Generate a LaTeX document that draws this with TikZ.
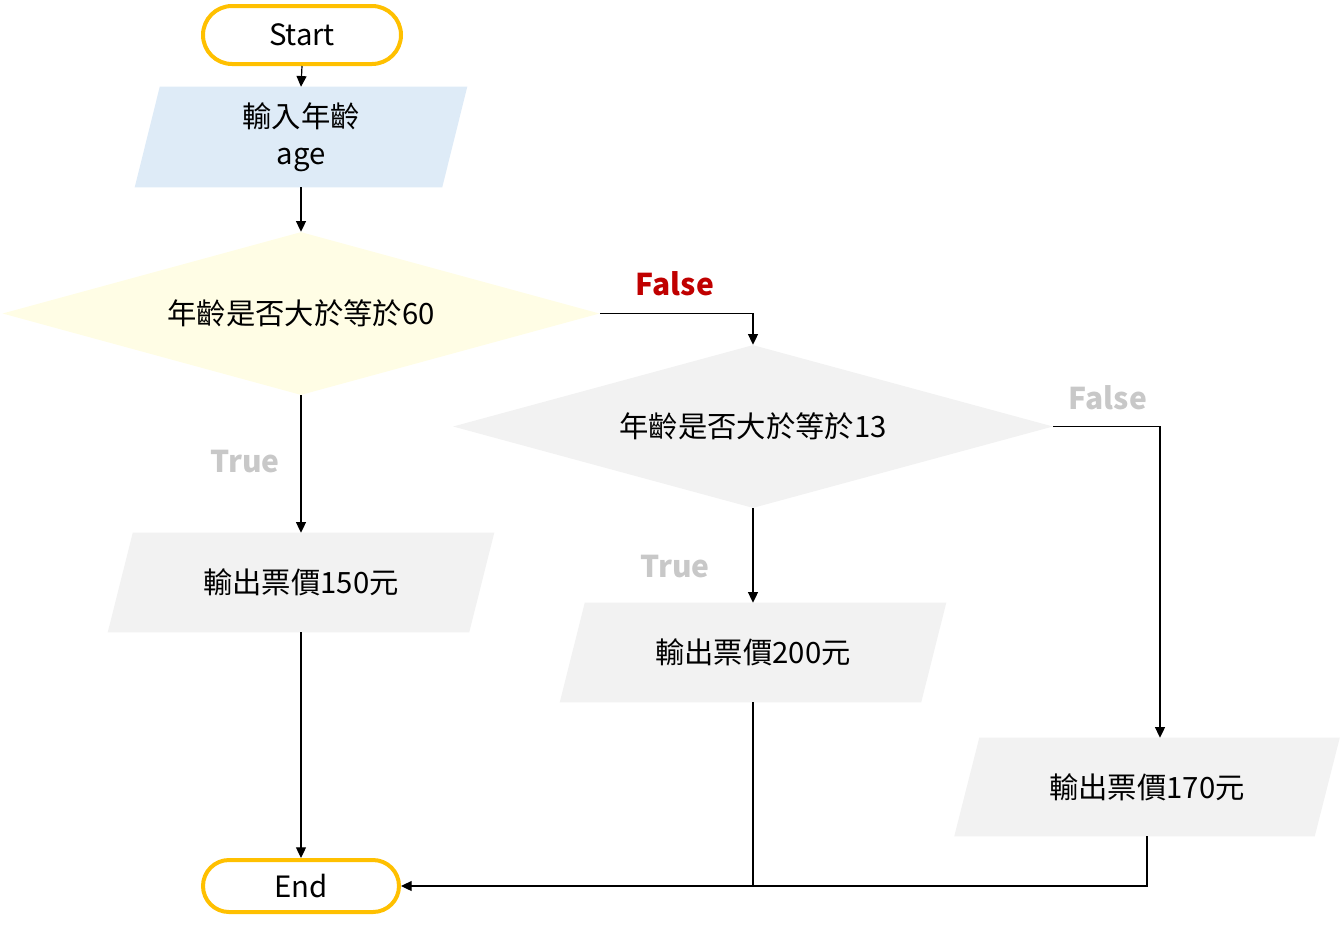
\documentclass[tikz,border=0pt]{standalone}
\usepackage{fontspec}
\setmainfont{Noto Sans CJK TC}
\usetikzlibrary{arrows.meta,shapes.geometric,backgrounds,calc}

\definecolor{termline}{HTML}{FFC000}
\definecolor{iofill}{HTML}{DEEBF7}
\definecolor{decfill}{HTML}{FFFDE5}
\definecolor{greyfill}{HTML}{F2F2F2}
\definecolor{falsered}{HTML}{C00000}
\definecolor{labelgrey}{HTML}{C8C8C8}

\tikzset{
  txt/.style={font=\fontsize{22}{27.75}\selectfont, inner sep=0pt, align=center},
  terminal/.style={txt, rectangle, draw=termline, line width=3pt, fill=white},
  decision/.style={txt, diamond, aspect=3.66},
  iobox/.style={txt, rectangle},
  conn/.style={draw=black, line width=0.9pt, -{Triangle[length=8pt,width=7.5pt]}},
  plainline/.style={draw=black, line width=0.9pt},
  branch/.style={font=\fontsize{22.5}{28}\selectfont\bfseries, inner sep=0pt},
}

\begin{document}
\begin{tikzpicture}[x=0.75pt,y=-0.75pt]
\useasboundingbox (0,0) rectangle (1341,932);

% terminals
\node[terminal, minimum width=148.5pt, minimum height=43.5pt, rounded corners=21.75pt] (start) at (302,35) {Start};
\node[terminal, minimum width=147pt, minimum height=39pt, rounded corners=19.5pt] (end) at (301,886) {End};

% input / output boxes (text nodes; the slanted shapes are filled behind them)
\node[iobox, minimum width=230.25pt, minimum height=75pt] (in) at (301,137) {輸入年齡\\age};
\node[iobox, minimum width=270.75pt, minimum height=74.25pt] (out1) at (301,582.5) {輸出票價150元};
\node[iobox, minimum width=270.75pt, minimum height=74.25pt] (out2) at (753,652.5) {輸出票價200元};
\node[iobox, minimum width=270pt, minimum height=73.5pt] (out3) at (1147,787) {輸出票價170元};

% decisions
\node[decision, fill=decfill, minimum width=447.75pt, minimum height=122.25pt] (d1) at (301,313.5) {年齡是否大於等於60};
\node[decision, fill=greyfill, minimum width=450pt, minimum height=122.25pt] (d2) at (753,426.5) {年齡是否大於等於13};

\begin{scope}[on background layer]
  \fill[iofill] ($(in.north west)+(12.5,0)$) -- ($(in.north east)+(12.5,0)$)
               -- ($(in.south east)+(-12.5,0)$) -- ($(in.south west)+(-12.5,0)$) -- cycle;
  \foreach \n in {out1,out2,out3}{
    \fill[greyfill] ($(\n.north west)+(12.5,0)$) -- ($(\n.north east)+(12.5,0)$)
                   -- ($(\n.south east)+(-12.5,0)$) -- ($(\n.south west)+(-12.5,0)$) -- cycle;
  }
\end{scope}

% branch labels
\node[branch, text=falsered] (f1) at (675,284) {False};
\node[branch, text=labelgrey] (t1) at (245,462) {True};
\node[branch, text=labelgrey] (t2) at (675,567) {True};
\node[branch, text=labelgrey] (f2) at (1108,398) {False};

% connectors
\draw[conn] (start.south) -- (in.north);
\draw[conn] (in.south) -- (d1.north);
\draw[conn] (d1.south) -- (out1.north);
\draw[conn] (d1.east) -| (d2.north);
\draw[conn] (d2.south) -- (out2.north);
\draw[conn] (d2.east) -| ($(out3.north)+(13,0)$);
\draw[conn] (out1.south) -- (end.north);
\coordinate (join) at (out2.south |- end.east);
\draw[conn] (out2.south) -- (join) -- (end.east);
\draw[plainline] (out3.south) |- (join);
\end{tikzpicture}
\end{document}
